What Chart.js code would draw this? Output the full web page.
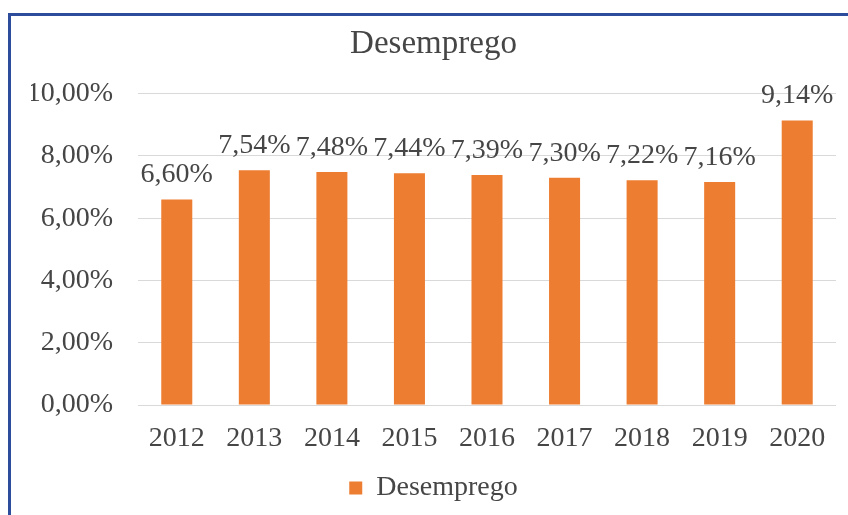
<!DOCTYPE html>
<html>
<head>
<meta charset="utf-8">
<script src="https://cdn.jsdelivr.net/npm/chart.js@4/dist/chart.umd.min.js"></script>
<style>
  html, body { margin: 0; padding: 0; background: #fff; }
  #frame { position: absolute; left: 8px; top: 13px; width: 837px; height: 499px;
           border-top: 3px solid #2E4C9C; border-left: 3px solid #2E4C9C; }
  #c { display: block; }
</style>
</head>
<body>
<div id="frame"><canvas id="c" width="837" height="499"></canvas></div>
<script>
const categories = ['2012','2013','2014','2015','2016','2017','2018','2019','2020'];
const desemprego = [6.60, 7.54, 7.48, 7.44, 7.39, 7.30, 7.22, 7.16, 9.14];
const yTicks = [0, 2, 4, 6, 8, 10];
const seriesName = 'Desemprego';
const chartTitle = 'Desemprego';

const fmt = v => v.toFixed(2).replace('.', ',') + '%';
const FONT = "'Liberation Serif', 'Times New Roman', serif";
const TXT = '#464646';

const dataLabels = {
  id: 'dataLabels',
  afterDatasetsDraw(chart) {
    const ctx = chart.ctx;
    const meta = chart.getDatasetMeta(0);
    ctx.save();
    ctx.font = '28px ' + FONT;
    ctx.fillStyle = TXT;
    ctx.textAlign = 'center';
    ctx.textBaseline = 'alphabetic';
    meta.data.forEach((bar, i) => {
      ctx.fillText(fmt(chart.data.datasets[0].data[i]), bar.x, bar.y - 17);
    });
    ctx.restore();
  }
};

new Chart(document.getElementById('c'), {
  type: 'bar',
  data: {
    labels: categories,
    datasets: [{
      label: seriesName,
      data: desemprego,
      backgroundColor: '#ED7D31',
      borderWidth: 0,
      categoryPercentage: 1.0,
      barPercentage: 0.4
    }]
  },
  options: {
    responsive: false,
    animation: false,
    layout: { padding: { left: 20, right: 12, top: 0, bottom: 3 } },
    plugins: {
      tooltip: { enabled: false },
      title: {
        display: true,
        text: chartTitle,
        color: TXT,
        font: { family: FONT, size: 33, weight: 'normal' },
        padding: { top: 9, bottom: 29 }
      },
      legend: {
        position: 'bottom',
        labels: {
          color: TXT,
          font: { family: FONT, size: 28 },
          boxWidth: 13,
          boxHeight: 13,
          padding: 10
        }
      }
    },
    scales: {
      x: {
        grid: { display: false, drawTicks: false },
        border: { display: false },
        ticks: { color: TXT, font: { family: FONT, size: 28 }, padding: 17 },
        afterFit(s) { s.height = 59; }
      },
      y: {
        min: 0, max: 10,
        afterBuildTicks(s) { s.ticks = yTicks.map(v => ({ value: v })); },
        grid: { color: '#d9d9d9', lineWidth: 1, drawTicks: false },
        border: { display: false },
        ticks: { color: TXT, font: { family: FONT, size: 28 }, padding: 25,
                 callback: v => fmt(v) },
        afterFit(s) { s.width = 107; }
      }
    }
  },
  plugins: [dataLabels]
});
</script>
</body>
</html>
